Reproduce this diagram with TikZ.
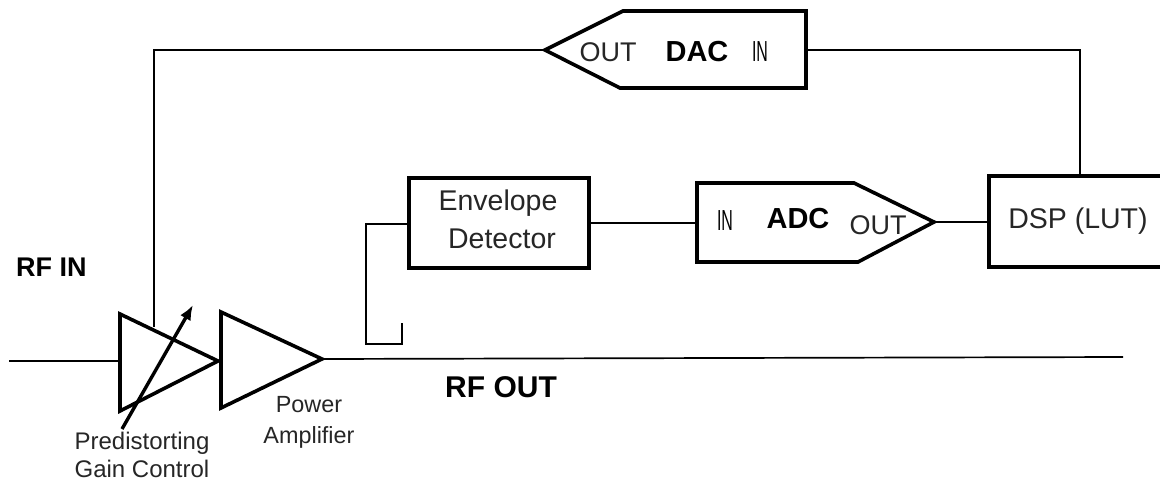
\documentclass[tikz,border=0pt]{standalone}
\usepackage{fontspec}
\usetikzlibrary{arrows.meta}
\setmainfont{Liberation Sans}
\tikzset{
  thin line/.style={line width=1.7pt,black},
  thick line/.style={line width=3.6pt,black,line join=miter},
  lab/.style={align=center,inner sep=0pt,text=black!85},
  blab/.style={font=\fontsize{29}{32}\selectfont\bfseries,inner sep=0pt},
  boxtext/.style={font=\fontsize{28.5}{32}\selectfont,inner sep=0pt,text=black!85},
  pin/.style={font=\fontsize{27}{30}\selectfont,inner sep=0pt,text=black!85},
  narrowpin/.style={font=\fontsize{29}{30}\selectfont,inner sep=0pt,text=black,xscale=.55}
}
\begin{document}
\begin{tikzpicture}[x=1pt,y=-1pt]
\useasboundingbox (0,0) rectangle (1160,482);
\fill[white] (0,0) rectangle (1160,482);
% envelope detector
\coordinate (envw) at (409,224);
\coordinate (enve) at (589,223);
\draw[thick line] (409,178) rectangle (589,268);
\node[boxtext] (envA) at (498,203) {Envelope};
\node[boxtext] (envB) at (502,239) {Detector};
% DSP (box runs off the right edge)
\coordinate (dspw) at (989,222);
\coordinate (dspt) at (1080,176);
\draw[thick line] (1162,176) -- (989,176) -- (989,267) -- (1162,267);
\node[boxtext] (dsplab) at (1078,221) {DSP (LUT)};
% ADC
\coordinate (adcin) at (697,223);
\coordinate (adcout) at (934,222);
\draw[thick line] (697,183) -- (854,183) -- (adcout) -- (858,262) -- (697,262) -- cycle;
\node[narrowpin] (adcI) at (725,221) {IN};
\node[blab] (adcN) at (798,219) {ADC};
\node[pin] (adcO) at (878,225) {OUT};
% DAC
\coordinate (dacout) at (545,50);
\coordinate (dacin) at (806,50);
\draw[thick line] (623,11) -- (806,11) -- (806,88) -- (620,88) -- (dacout) -- cycle;
\node[pin] (dacO) at (608,52) {OUT};
\node[blab] (dacN) at (697,52) {DAC};
\node[narrowpin] (dacI) at (760,52) {IN};
% amplifiers
\coordinate (ga) at (120,314); \coordinate (gb) at (120,411); \coordinate (gt) at (218,361);
\coordinate (pa) at (221,312); \coordinate (pb) at (221,408); \coordinate (pt) at (322,359);
\draw[thick line] (ga) -- (gt) -- (gb) -- cycle;
\draw[thick line] (pa) -- (pt) -- (pb) -- cycle;
% connectors
\coordinate (rfl) at (9,361);
\coordinate (rfr) at (1123,357);
\draw[thin line] (rfl) -- (ga |- rfl);
\draw[thin line] (pt) -- (rfr);
\draw[thin line] (154,327) -- (154,50) -- (dacout);
\draw[thin line] (dacin) -- (1080,50) -- (dspt);
\draw[thin line] (enve) -- (adcin);
\draw[thin line] (adcout) -- (dspw);
\draw[thin line] (envw) -- (366,224) -- (366,344) -- (402,344) -- (402,323);
% control arrow
\draw[line width=3.4pt,-{Latex[length=15pt,width=12pt]}] (122,429) -- (193,305);
% labels
\node[inner sep=0pt,anchor=west,font=\fontsize{27}{30}\selectfont\bfseries] (rfin) at (16,267) {RF IN};
\node[inner sep=0pt,anchor=west,font=\fontsize{30}{32}\selectfont\bfseries] (rfout) at (445,387) {RF OUT};
\node[lab,font=\fontsize{24}{28}\selectfont] (predlab) at (142,455) {Predistorting\\Gain Control};
\node[lab,font=\fontsize{23.4}{31}\selectfont] (palab) at (309,422) {Power\\Amplifier};
\end{tikzpicture}
\end{document}
